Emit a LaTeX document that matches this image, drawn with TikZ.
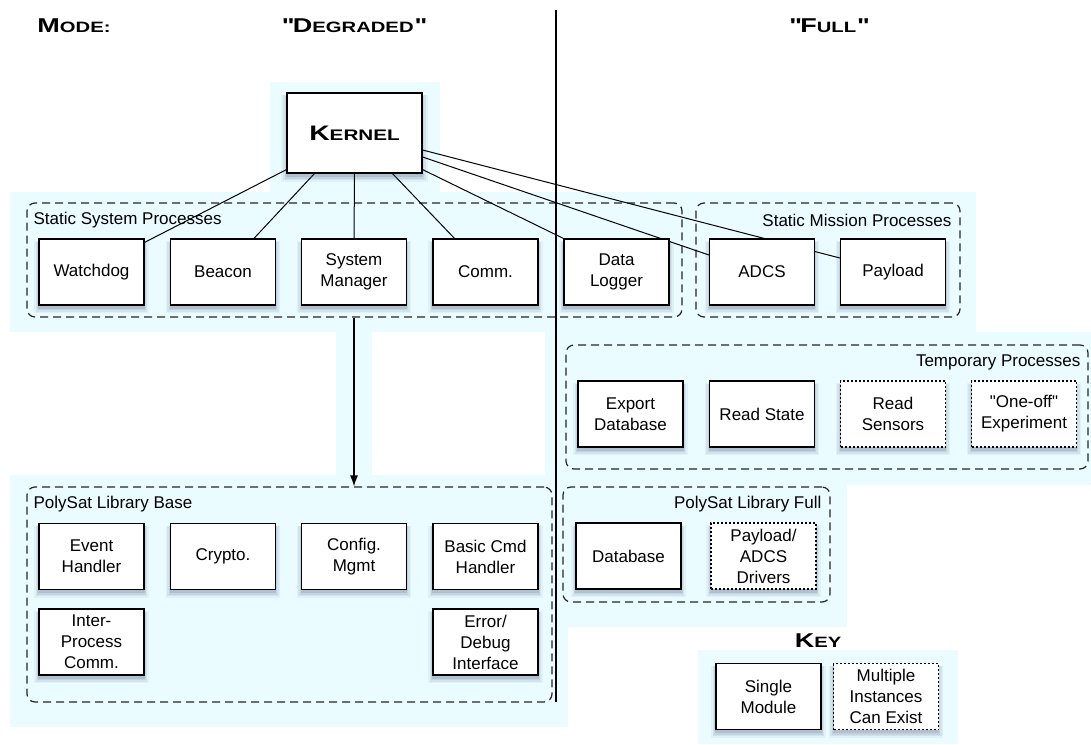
\documentclass[tikz,border=0pt]{standalone}
\usepackage{fontspec}
\setmainfont{Liberation Sans}
\newfontfamily\cpfont[FakeStretch=1.35]{Liberation Sans}
\usetikzlibrary{shadows,arrows.meta,calc}
\definecolor{bgcyan}{RGB}{234,252,255}
\definecolor{shadowc}{RGB}{40,55,100}
\pgfdeclarelayer{bg}
\pgfdeclarelayer{lines}
\pgfsetlayers{bg,lines,main}
\newcommand\cpsc[2]{{\cpfont\bfseries{\fontsize{20}{20}\selectfont #1}{\fontsize{15}{15}\selectfont #2}}}
\newcommand\cpbig[1]{{\cpfont\bfseries\fontsize{20}{20}\selectfont #1}}
\begin{document}
\begin{tikzpicture}[x=1pt,y=-1pt,
  box/.style={draw=black, line width=1.2pt, fill=white, minimum width=105pt, minimum height=66pt,
    inner sep=2pt, align=center, font=\fontsize{17}{21}\selectfont,
    general shadow={fill=shadowc, opacity=0.05, shadow yshift=-5pt, shadow scale=1.09},
    general shadow={fill=shadowc, opacity=0.07, shadow yshift=-4.5pt, shadow scale=1.06},
    general shadow={fill=shadowc, opacity=0.09, shadow yshift=-4pt, shadow scale=1.035},
    general shadow={fill=shadowc, opacity=0.12, shadow yshift=-3.5pt, shadow scale=1.01}},
  multi/.style={box, dash pattern=on 2pt off 2pt},
  group/.style={draw=black!85, line width=1.2pt, dash pattern=on 8pt off 5pt, rounded corners=8pt,
    inner sep=0pt},
  grouplabel/.style={font=\fontsize{17}{21}\selectfont, inner sep=0pt},
  link/.style={line width=1pt, draw=black},
  header/.style={inner sep=0pt}
]
\useasboundingbox (0,0) rectangle (1091,744);

\begin{pgfonlayer}{bg}
  \fill[bgcyan] (270,82) rectangle (440,192);
  \fill[bgcyan] (10,192) rectangle (976,332);
  \fill[bgcyan] (336,332) rectangle (372,476);
  \fill[bgcyan] (545,332) rectangle (1091,485);
  \fill[bgcyan] (545,485) rectangle (847,627);
  \fill[bgcyan] (10,475) rectangle (568,727);
  \fill[bgcyan] (698,650) rectangle (958,744);

  \node[group, minimum width=655pt, minimum height=114pt] (ssp) at (354.5,260) {};
  \node[group, minimum width=264pt, minimum height=114pt] (smp) at (828,260) {};
  \node[group, minimum width=522pt, minimum height=124pt] (tmp) at (827,407) {};
  \node[group, minimum width=525pt, minimum height=215pt] (plb) at (289.5,594.5) {};
  \node[group, minimum width=267pt, minimum height=115pt] (plf) at (696.5,544.5) {};
\end{pgfonlayer}

% headers
\node[header] (mode) at (74,26) {\cpsc{M}{ODE:}};
\node[header] (degr) at (353,26) {\cpbig{\textquotedbl\kern1.5pt D}\cpsc{}{EGRADED}\cpbig{\kern1pt\textquotedbl}};
\node[header] (full) at (828,26) {\cpbig{\textquotedbl\kern1.5pt F}\cpsc{}{ULL}\cpbig{\kern1pt\textquotedbl}};
\node[header] (key) at (818,641) {\cpsc{K}{EY}};

% group labels
\node[grouplabel, anchor=west] (sspl) at ($(ssp.north west)+(7,18)$) {Static System Processes};
\node[grouplabel, anchor=east] (smpl) at ($(smp.north east)+(-9,18)$) {Static Mission Processes};
\node[grouplabel, anchor=east] (tmpl) at ($(tmp.north east)+(-8,18)$) {Temporary Processes};
\node[grouplabel, anchor=west] (plbl) at ($(plb.north west)+(7,18)$) {PolySat Library Base};
\node[grouplabel, anchor=east] (plfl) at ($(plf.north east)+(-9,18)$) {PolySat Library Full};

% kernel
\node[box, minimum width=135pt, minimum height=80pt] (kernel) at (354.5,133)
  {{\cpfont\bfseries{\fontsize{21}{21}\selectfont K}{\fontsize{15.3}{15}\selectfont ERNEL}}};

% static processes
\node[box] (watchdog) at (91.5,272) {Watchdog};
\node[box] (beacon) at (223,272) {Beacon};
\node[box] (sysmgr) at (354,272) {System\\Manager};
\node[box] (comm) at (485.5,272) {Comm.};
\node[box] (logger) at (616.5,272) {Data\\Logger};
\node[box] (adcs) at (762,272) {ADCS};
\node[box] (payload) at (893,272) {Payload};

% temporary
\node[box] (export) at (630.5,414) {Export\\Database};
\node[box] (readstate) at (762,414) {Read State};
\node[multi] (readsens) at (893,414) {Read\\Sensors};
\node[multi] (oneoff) at (1024,414) {\textquotedbl One-off\textquotedbl\\Experiment};

% library base
\node[box] (event) at (91.5,556.5) {Event\\Handler};
\node[box] (crypto) at (223,556.5) {Crypto.};
\node[box] (config) at (354,556.5) {Config.\\Mgmt};
\node[box] (basiccmd) at (485.5,556.5) {Basic Cmd\\Handler};
\node[box] (ipc) at (91.5,642) {Inter-\\Process\\Comm.};
\node[box] (errdbg) at (485.5,642) {Error/\\Debug\\Interface};

% library full
\node[box] (database) at (628.5,556) {Database};
\node[multi] (drivers) at (763.5,556) {Payload/\\ADCS\\Drivers};

% key
\node[box] (single) at (768.5,696.5) {Single\\Module};
\node[multi] (multiple) at (886,696.5) {Multiple\\Instances\\Can Exist};

% connectors
\begin{pgfonlayer}{lines}
  \coordinate (dtop) at (556,10);
  \coordinate (dbot) at (556,702);
  \draw[line width=1.1pt] (dtop) -- (dbot);
  \draw[link] ($(kernel.south west)+(0,-4)$) -- ($(watchdog.north east)+(0,4)$);
  \draw[link] ($(kernel.south west)+(28,0)$) -- ($(beacon.north)+(31,0)$);
  \draw[link] (kernel.south) -- (sysmgr.north);
  \draw[link] ($(kernel.south)+(38,0)$) -- ($(comm.north)+(-31,0)$);
  \draw[link] ($(kernel.south east)+(0,-4)$) -- (logger.north west);
  \draw[link] ($(kernel.east)+(0,24)$) -- ($(adcs.west)+(0,-17)$);
  \draw[link] ($(kernel.east)+(0,17)$) -- ($(payload.west)+(0,-14)$);
  \draw[line width=1.2pt, -{Latex[length=11pt,width=8pt]}] (sysmgr |- ssp.south) -- (sysmgr |- plb.north);
\end{pgfonlayer}
\end{tikzpicture}
\end{document}
